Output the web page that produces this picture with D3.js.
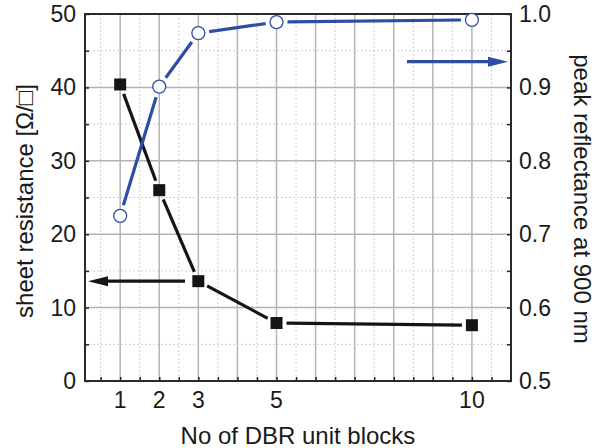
<!DOCTYPE html>
<html><head><meta charset="utf-8">
<script src="https://cdn.jsdelivr.net/npm/d3@7"></script>
<style>body{margin:0;background:#fff}svg{font-family:"Liberation Sans",Arial,sans-serif}</style>
</head><body><svg id="c" width="596" height="448"></svg>
<script>
const blocks = [1, 2, 3, 5, 10];
const sheetResistance = [40.4, 26.0, 13.6, 7.9, 7.6];
const peakReflectance = [0.725, 0.901, 0.974, 0.989, 0.992];
const xTickLabels = [1, 2, 3, 5, 10];
const yLeftTicks = [0, 10, 20, 30, 40, 50];
const yRightTicks = [0.5, 0.6, 0.7, 0.8, 0.9, 1.0];

const svg = d3.select("#c");
const L = 85, R = 511, T = 14, B = 381;
const x = d3.scaleLinear().domain([0.1, 11]).range([L, R]);
const yL = d3.scaleLinear().domain([0, 50]).range([B, T]);
const yR = d3.scaleLinear().domain([0.5, 1.0]).range([B, T]);
const blue = "#2d4da7";

// grid
const g = svg.append("g");
const halfX = d3.range(0.5, 11, 0.5);
halfX.forEach(v => {
  const major = Math.abs(v - Math.round(v)) < 1e-9;
  g.append("line").attr("x1", x(v)).attr("x2", x(v)).attr("y1", T).attr("y2", B)
    .attr("stroke", major ? "#b4b4b4" : "#d0d0d0")
    .attr("stroke-width", major ? 1.5 : 1)
    .attr("stroke-dasharray", major ? null : "2,2");
});
d3.range(5, 50, 5).forEach(v => {
  const major = v % 10 === 0;
  g.append("line").attr("x1", L).attr("x2", R).attr("y1", yL(v)).attr("y2", yL(v))
    .attr("stroke", major ? "#b4b4b4" : "#d0d0d0")
    .attr("stroke-width", major ? 1.5 : 1)
    .attr("stroke-dasharray", major ? null : "2,2");
});

// axes
const axB = d3.axisBottom(x).tickValues(halfX).tickSizeInner(-4).tickSizeOuter(0).tickFormat("");
svg.append("g").attr("transform", `translate(0,${B})`).call(axB);
const axL = d3.axisLeft(yL).tickValues(d3.range(0, 55, 5)).tickSizeInner(-4).tickSizeOuter(0).tickFormat("");
svg.append("g").attr("transform", `translate(${L},0)`).call(axL);
const axR = d3.axisRight(yR).tickValues(d3.range(0, 11).map(i => 0.5 + i * 0.05)).tickSizeInner(-4).tickSizeOuter(0).tickFormat("");
svg.append("g").attr("transform", `translate(${R},0)`).call(axR);
svg.selectAll(".domain").remove();
svg.selectAll(".tick line").attr("stroke", "#222").attr("stroke-width", 1.5);
svg.append("rect").attr("x", L).attr("y", T).attr("width", R - L).attr("height", B - T)
  .attr("fill", "none").attr("stroke", "#2a2a2a").attr("stroke-width", 2);

// tick labels
const lab = svg.append("g").attr("font-size", 23).attr("fill", "#1a1a1a");
xTickLabels.forEach(v => lab.append("text").attr("x", x(v)).attr("y", 408).attr("text-anchor", "middle").text(v));
yLeftTicks.forEach(v => lab.append("text").attr("x", 76).attr("y", yL(v) + 8).attr("text-anchor", "end").text(v));
yRightTicks.forEach(v => lab.append("text").attr("x", 519).attr("y", yR(v) + 8).attr("text-anchor", "start").text(v.toFixed(1)));

// titles
svg.append("text").attr("x", 298).attr("y", 444).attr("text-anchor", "middle").attr("font-size", 24).attr("fill", "#1a1a1a").text("No of DBR unit blocks");
svg.append("text").attr("transform", "translate(33,201) rotate(-90)").attr("text-anchor", "middle").attr("font-size", 24).attr("fill", "#1a1a1a").text("sheet resistance [Ω/□]");
svg.append("text").attr("transform", "translate(574,199) rotate(90)").attr("text-anchor", "middle").attr("font-size", 24).attr("fill", "#1a1a1a").text("peak reflectance at 900 nm");

// gapped line segments
function segs(xs, ys, sx, sy, gap, color) {
  for (let i = 0; i < xs.length - 1; i++) {
    const x1 = sx(xs[i]), y1 = sy(ys[i]), x2 = sx(xs[i + 1]), y2 = sy(ys[i + 1]);
    const d = Math.hypot(x2 - x1, y2 - y1), ux = (x2 - x1) / d, uy = (y2 - y1) / d;
    svg.append("line").attr("x1", x1 + ux * gap).attr("y1", y1 + uy * gap)
      .attr("x2", x2 - ux * gap).attr("y2", y2 - uy * gap)
      .attr("stroke", color).attr("stroke-width", 3.2);
  }
}
segs(blocks, sheetResistance, x, yL, 10, "#151515");
segs(blocks, peakReflectance, x, yR, 11, blue);

// markers
blocks.forEach((b, i) => {
  svg.append("rect").attr("x", x(b) - 6).attr("y", yL(sheetResistance[i]) - 6)
    .attr("width", 12).attr("height", 12).attr("fill", "#151515");
  svg.append("circle").attr("cx", x(b)).attr("cy", yR(peakReflectance[i])).attr("r", 6.5)
    .attr("fill", "#fff").attr("stroke", blue).attr("stroke-width", 1.3);
});

// arrows
function arrow(x1, x2, yy, color) {
  const dir = Math.sign(x2 - x1);
  svg.append("line").attr("x1", x1).attr("x2", x2 - dir * 18).attr("y1", yy).attr("y2", yy)
    .attr("stroke", color).attr("stroke-width", 3.2);
  svg.append("path").attr("d", `M${x2},${yy} L${x2 - dir * 20},${yy - 5} L${x2 - dir * 20},${yy + 5} Z`).attr("fill", color);
}
arrow(185, 88, yL(13.6), "#151515");
arrow(407, 508, yR(0.935), blue);
</script></body></html>
